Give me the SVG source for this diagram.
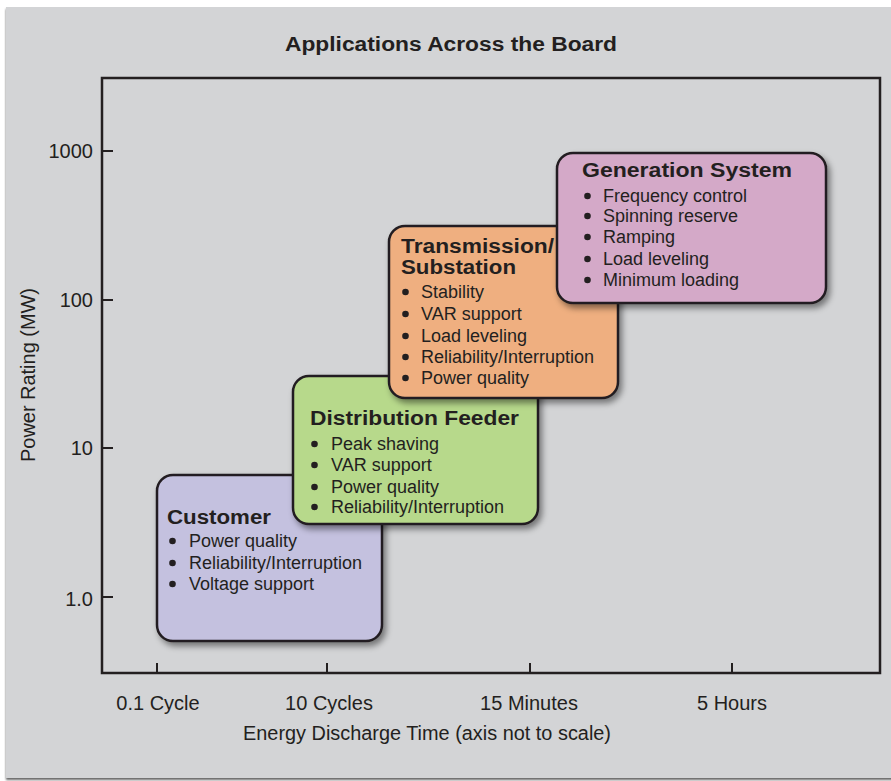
<svg xmlns="http://www.w3.org/2000/svg" width="891" height="781" viewBox="0 0 891 781">
  <defs>
    <filter id="drop" x="-10%" y="-10%" width="125%" height="130%">
      <feDropShadow dx="3" dy="4" stdDeviation="3" flood-color="#000" flood-opacity="0.45"/>
    </filter>
    <filter id="panelShadow" x="-5%" y="-5%" width="110%" height="110%">
      <feDropShadow dx="0" dy="2" stdDeviation="1" flood-color="#000" flood-opacity="0.6"/>
    </filter>
  </defs>
  <style>
    .axis { fill: none; stroke: #231f20; stroke-width: 2.5; }
    .tick { stroke: #231f20; stroke-width: 2; }
    .lbl { font-family: "Liberation Sans", Arial, sans-serif; font-size: 20px; fill: #231f20; }
    .ttl { font-family: "Liberation Sans", Arial, sans-serif; font-size: 20px; font-weight: bold; fill: #231f20; }
    .item { font-family: "Liberation Sans", Arial, sans-serif; font-size: 18px; fill: #231f20; }
    .box { stroke: #231f20; stroke-width: 2.5; filter: url(#drop); }
    .dot { fill: #231f20; }
  </style>

  <!-- background panel -->
  <rect x="0" y="0" width="891" height="781" fill="#ffffff"/>
  <rect x="6" y="7" width="890" height="771" fill="#d3d4d6" filter="url(#panelShadow)"/>

  <!-- chart title -->
  <text class="ttl" x="451" y="51" text-anchor="middle" textLength="332" lengthAdjust="spacingAndGlyphs">Applications Across the Board</text>

  <!-- plot frame and ticks -->
  <g id="axes">
    <rect class="axis" x="102" y="78" width="778" height="595"/>
    <line class="tick" x1="102" y1="151" x2="113" y2="151"/>
    <line class="tick" x1="102" y1="300" x2="113" y2="300"/>
    <line class="tick" x1="102" y1="448" x2="113" y2="448"/>
    <line class="tick" x1="102" y1="597" x2="113" y2="597"/>
    <line class="tick" x1="157" y1="673" x2="157" y2="663"/>
    <line class="tick" x1="327" y1="673" x2="327" y2="663"/>
    <line class="tick" x1="530" y1="673" x2="530" y2="663"/>
    <line class="tick" x1="732" y1="673" x2="732" y2="663"/>

    <text class="lbl" x="93" y="158" text-anchor="end">1000</text>
    <text class="lbl" x="93" y="307" text-anchor="end">100</text>
    <text class="lbl" x="93" y="455" text-anchor="end">10</text>
    <text class="lbl" x="93" y="606" text-anchor="end">1.0</text>

    <text class="lbl" x="158" y="710" text-anchor="middle">0.1 Cycle</text>
    <text class="lbl" x="329" y="710" text-anchor="middle">10 Cycles</text>
    <text class="lbl" x="529" y="710" text-anchor="middle">15 Minutes</text>
    <text class="lbl" x="732" y="710" text-anchor="middle">5 Hours</text>
    <text class="lbl" x="427" y="740" text-anchor="middle" textLength="368" lengthAdjust="spacingAndGlyphs">Energy Discharge Time (axis not to scale)</text>

    <text class="lbl" transform="translate(35 375) rotate(-90)" text-anchor="middle" textLength="174" lengthAdjust="spacingAndGlyphs">Power Rating (MW)</text>
  </g>

  <!-- Customer -->
  <g id="customer">
    <rect class="box" x="157" y="475" width="225" height="166" rx="16" fill="#c4c1df"/>
    <text class="ttl" x="167" y="524" textLength="104" lengthAdjust="spacingAndGlyphs">Customer</text>
    <circle class="dot" cx="172.5" cy="541" r="3.3"/>
    <circle class="dot" cx="172.5" cy="563" r="3.3"/>
    <circle class="dot" cx="172.5" cy="584" r="3.3"/>
    <text class="item" x="189" y="547">Power quality</text>
    <text class="item" x="189" y="569">Reliability/Interruption</text>
    <text class="item" x="189" y="590">Voltage support</text>
  </g>

  <!-- Distribution Feeder -->
  <g id="distribution">
    <rect class="box" x="293" y="376" width="245" height="148" rx="16" fill="#b7d98b"/>
    <text class="ttl" x="310" y="425" textLength="209" lengthAdjust="spacingAndGlyphs">Distribution Feeder</text>
    <circle class="dot" cx="314.5" cy="444" r="3.3"/>
    <circle class="dot" cx="314.5" cy="465" r="3.3"/>
    <circle class="dot" cx="314.5" cy="487" r="3.3"/>
    <circle class="dot" cx="314.5" cy="507" r="3.3"/>
    <text class="item" x="331" y="450">Peak shaving</text>
    <text class="item" x="331" y="471">VAR support</text>
    <text class="item" x="331" y="493">Power quality</text>
    <text class="item" x="331" y="513">Reliability/Interruption</text>
  </g>

  <!-- Transmission / Substation -->
  <g id="transmission">
    <rect class="box" x="389" y="226" width="229" height="172" rx="16" fill="#efaf80"/>
    <text class="ttl" x="401" y="253" textLength="153" lengthAdjust="spacingAndGlyphs">Transmission/</text>
    <text class="ttl" x="401" y="274" textLength="115" lengthAdjust="spacingAndGlyphs">Substation</text>
    <circle class="dot" cx="405.5" cy="292" r="3.3"/>
    <circle class="dot" cx="405.5" cy="314" r="3.3"/>
    <circle class="dot" cx="405.5" cy="336" r="3.3"/>
    <circle class="dot" cx="405.5" cy="357" r="3.3"/>
    <circle class="dot" cx="405.5" cy="378" r="3.3"/>
    <text class="item" x="421" y="298">Stability</text>
    <text class="item" x="421" y="320">VAR support</text>
    <text class="item" x="421" y="342">Load leveling</text>
    <text class="item" x="421" y="363">Reliability/Interruption</text>
    <text class="item" x="421" y="384">Power quality</text>
  </g>

  <!-- Generation System -->
  <g id="generation">
    <rect class="box" x="557" y="153" width="269" height="150" rx="16" fill="#d4a9c8"/>
    <text class="ttl" x="582" y="177" textLength="210" lengthAdjust="spacingAndGlyphs">Generation System</text>
    <circle class="dot" cx="587.5" cy="196" r="3.3"/>
    <circle class="dot" cx="587.5" cy="216" r="3.3"/>
    <circle class="dot" cx="587.5" cy="237" r="3.3"/>
    <circle class="dot" cx="587.5" cy="259" r="3.3"/>
    <circle class="dot" cx="587.5" cy="280" r="3.3"/>
    <text class="item" x="603" y="202">Frequency control</text>
    <text class="item" x="603" y="222">Spinning reserve</text>
    <text class="item" x="603" y="243">Ramping</text>
    <text class="item" x="603" y="265">Load leveling</text>
    <text class="item" x="603" y="286">Minimum loading</text>
  </g>
</svg>
